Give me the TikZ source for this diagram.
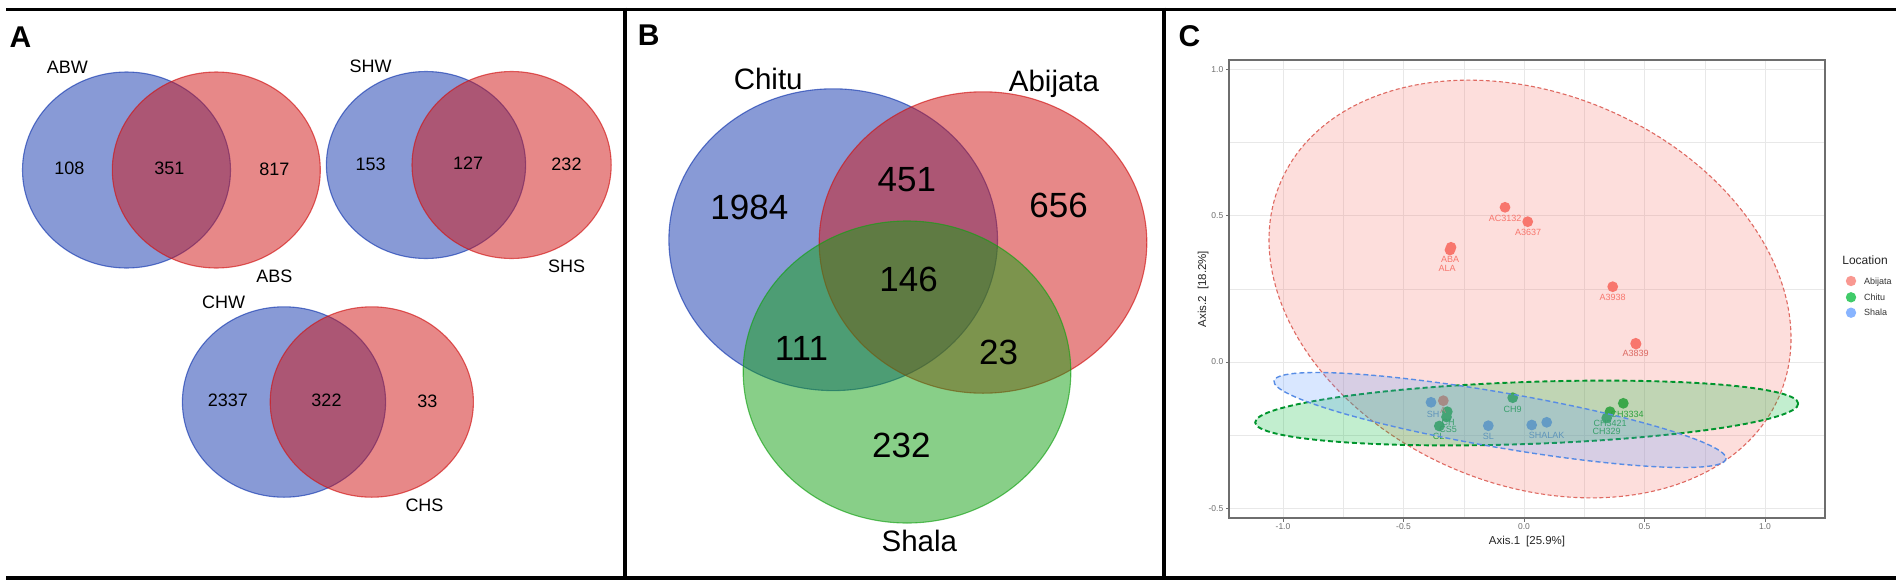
\documentclass[tikz,border=0pt]{standalone}
\usepackage{fontspec}
\setmainfont{Liberation Sans}
\definecolor{vblue}{RGB}{19,55,175}
\definecolor{vred}{RGB}{209,19,19}
\definecolor{vgreen}{RGB}{19,161,19}
\definecolor{gab}{RGB}{248,118,109}
\definecolor{gch}{RGB}{0,186,56}
\definecolor{gsh}{RGB}{97,156,255}
\definecolor{tickgray}{RGB}{110,110,110}
\definecolor{gridgray}{RGB}{232,232,232}
\definecolor{bordergray}{RGB}{110,110,110}
\begin{document}
\begin{tikzpicture}[x=1pt,y=-1pt,
  frame/.style={line width=3.8pt,black},
  divider/.style={line width=3.2pt,black},
  vset/.style={fill opacity=0.5,draw opacity=0.65,line width=1.1pt},
  panelletter/.style={font=\fontsize{30}{30}\selectfont\bfseries,inner sep=0pt,text depth=0pt},
  vlabA/.style={font=\fontsize{18}{18}\selectfont,inner sep=0pt,text depth=0pt},
  vlabB/.style={font=\fontsize{29.5}{30}\selectfont,inner sep=0pt,text depth=0pt},
  vnumB/.style={font=\fontsize{35}{35}\selectfont,inner sep=0pt,text depth=0pt},
  ticklab/.style={font=\fontsize{8.5}{9}\selectfont,text=tickgray,inner sep=0pt,text depth=0pt},
  axtitle/.style={font=\fontsize{11.5}{12}\selectfont,text=black!85,inner sep=0pt,text depth=0pt},
  ptlab/.style={font=\fontsize{9}{9}\selectfont,inner sep=0pt,text depth=0pt},
  legtext/.style={font=\fontsize{9}{9}\selectfont,text=black!80,inner sep=0pt,text depth=0pt,anchor=west},
  dotab/.style={fill=gab},
  dotch/.style={fill=gch!90!black!90!white},
  dotsh/.style={fill=gsh},
  ell/.style={fill opacity=0.24,draw opacity=1}
]
\useasboundingbox (0,0) rectangle (1904,587);
\fill[white] (0,0) rectangle (1904,587);

% ---------- frame ----------
\coordinate (tl) at (6,9.5); \coordinate (tr) at (1896,9.5);
\coordinate (bl) at (6,578); \coordinate (br) at (1896,578);
\coordinate (d1t) at (625,7.5); \coordinate (d1b) at (625,580);
\coordinate (d2t) at (1164,7.5); \coordinate (d2b) at (1164,580);
\draw[frame] (tl) -- (tr);
\draw[frame] (bl) -- (br);
\draw[divider] (d1t) -- (d1b);
\draw[divider] (d2t) -- (d2b);

% ---------- panel A ----------
\node[panelletter] (pA) at (20.5,37.5) {A};
\path[vset,fill=vblue,draw=vblue] (126.5,170) ellipse [x radius=104,y radius=98];
\path[vset,fill=vred,draw=vred] (216.3,170) ellipse [x radius=104,y radius=98];
\path[vset,fill=vblue,draw=vblue] (426,165) ellipse [x radius=99.6,y radius=93.5];
\path[vset,fill=vred,draw=vred] (511.6,165) ellipse [x radius=99.6,y radius=93.5];
\path[vset,fill=vblue,draw=vblue] (284,402) ellipse [x radius=101.6,y radius=95.2];
\path[vset,fill=vred,draw=vred] (371.8,402) ellipse [x radius=101.6,y radius=95.2];

\node[vlabA] (tABW) at (67.3,67.4) {ABW};
\node[vlabA] (n108) at (69.4,168.5) {108};
\node[vlabA] (n351) at (169.4,168.5) {351};
\node[vlabA] (n817) at (274.3,169.3) {817};
\node[vlabA] (tABS) at (274.3,276.4) {ABS};
\node[vlabA] (tSHW) at (370.6,66.7) {SHW};
\node[vlabA] (n153) at (370.6,164) {153};
\node[vlabA] (n127) at (468.2,163) {127};
\node[vlabA] (n232a) at (566.5,164) {232};
\node[vlabA] (tSHS) at (566.5,266.7) {SHS};
\node[vlabA] (tCHW) at (223.7,302.6) {CHW};
\node[vlabA] (n2337) at (227.8,400.7) {2337};
\node[vlabA] (n322) at (326.5,400.7) {322};
\node[vlabA] (n33) at (427.3,401.5) {33};
\node[vlabA] (tCHS) at (424.5,505.6) {CHS};

% ---------- panel B ----------
\node[panelletter] (pB) at (648.6,35.6) {B};
\path[vset,fill=vblue,draw=vblue] (833.2,239.7) ellipse [x radius=164.3,y radius=150.9];
\path[vset,fill=vred,draw=vred] (983,242.5) ellipse [x radius=163.8,y radius=150.7];
\path[vset,fill=vgreen,draw=vgreen] (907,372) ellipse [x radius=163.8,y radius=151];
\node[vlabB] (tChitu) at (768.2,78.7) {Chitu};
\node[vlabB] (tAbijata) at (1054,80.5) {Abijata};
\node[vlabB] (tShala) at (919.3,541.2) {Shala};
\node[vnumB] (n1984) at (749.3,207) {1984};
\node[vnumB] (n451) at (906.8,179.8) {451};
\node[vnumB] (n656) at (1058.6,205) {656};
\node[vnumB] (n146) at (908.6,279) {146};
\node[vnumB] (n111) at (801.4,348.3) {111};
\node[vnumB] (n23) at (998.6,352) {23};
\node[vnumB] (n232b) at (901.4,445.7) {232};

% ---------- panel C ----------
\node[panelletter] (pC) at (1189.4,35.6) {C};
% grid
\foreach \gx in {1343.25,1463.75,1584.25,1704.75} {\draw[gridgray,line width=0.5pt] (\gx,60) -- (\gx,518);}
\foreach \gy in {142.55,288.85,435.15} {\draw[gridgray,line width=0.5pt] (1229,\gy) -- (1825,\gy);}
\foreach \gx in {1283,1403.5,1524,1644.5,1765} {\draw[gridgray,line width=1pt] (\gx,60) -- (\gx,518);}
\foreach \gy in {69.4,215.7,362,508.3} {\draw[gridgray,line width=1pt] (1229,\gy) -- (1825,\gy);}

% points
\foreach \px/\py in {1505/207.3,1527.7/221.7,1451/247.3,1450/250,1612.7/286.7,1635.7/343.3,1636/344,1443.3/400.7}
  {\fill[dotab] (\px,\py) circle (5.4);}
\foreach \px/\py in {1512.7/397.7,1623.3/403.3,1610/411.7,1606.7/418,1447.3/411.7,1446.5/417,1439.3/426}
  {\fill[dotch] (\px,\py) circle (5.4);}
\foreach \px/\py in {1431/402.3,1488.3/425.7,1531.7/425,1546.7/422.3}
  {\fill[dotsh] (\px,\py) circle (5.4);}

% point labels
\node[ptlab,text=gab] (lAC3132) at (1505,218.3) {AC3132};
\node[ptlab,text=gab] (lA3637) at (1528,232) {A3637};
\node[ptlab,text=gab] (lABA) at (1450,259) {ABA};
\node[ptlab,text=gab] (lALA) at (1447,268) {ALA};
\node[ptlab,text=gab] (lA3938) at (1612.7,297.3) {A3938};
\node[ptlab,text=gab!85!black] (lA3839) at (1635.5,353.7) {A3839};
\node[ptlab,text=gab] (lAx) at (1443,410) {A};
\node[ptlab,text=gch!90!black] (lCH9) at (1512.7,409) {CH9};
\node[ptlab,text=gch!90!black] (lCH3334) at (1627,414.5) {CH3334};
\node[ptlab,text=gch!90!black] (lCH3421) at (1610,423.5) {CH3421};
\node[ptlab,text=gch!90!black] (lCH329) at (1606.7,431) {CH329};
\node[ptlab,text=gch!90!black] (lCH) at (1448,422) {CH};
\node[ptlab,text=gch!90!black] (lCS5) at (1448,429.5) {CS5};
\node[ptlab,text=gch!90!black] (lCL) at (1438.5,436.5) {CL};
\node[ptlab,text=gsh!90!black] (lSH) at (1433,414) {SH};
\node[ptlab,text=gsh!90!black] (lSL) at (1488.3,436.7) {SL};
\node[ptlab,text=gsh!90!black] (lSHALAK) at (1546.7,435) {SHALAK};

% ellipses
\begin{scope}
\clip (1229,60) rectangle (1825,518);
\path[ell,fill=gab,draw=gab!90!black,line width=1.1pt,dash pattern=on 4pt off 2.5pt,rotate around={-23.2:(1530,289)}] (1530,289) ellipse [x radius=271.3,y radius=195.2];
\path[ell,fill=gch,draw=gch!80!black,line width=1.9pt,dash pattern=on 5pt off 3pt,rotate around={2:(1526.7,413)}] (1526.7,413) ellipse [x radius=271.7,y radius=31];
\path[ell,fill=gsh,draw=gsh!90!black,line width=1.4pt,dash pattern=on 5pt off 3pt,rotate around={-9.8:(1500,420)}] (1500,420) ellipse [x radius=229.3,y radius=27.5];
\end{scope}

% panel border and ticks
\draw[bordergray,line width=1.4pt] (1229,60) rectangle (1825,518);
\foreach \gx/\lab in {1283/-1.0,1403.5/-0.5,1524/0.0,1644.5/0.5,1765/1.0} {
  \draw[bordergray,line width=0.8pt] (\gx,518) -- (\gx,521.5);
  \node[ticklab,anchor=north] at (\gx,523.5) {\lab};
}
\foreach \gy/\lab in {69.4/1.0,215.7/0.5,362/0.0,508.3/-0.5} {
  \draw[bordergray,line width=0.8pt] (1229,\gy) -- (1225.5,\gy);
  \node[ticklab,anchor=east] at (1223.5,\gy) {\lab};
}
\node[axtitle] (ax1) at (1527,540) {Axis.1\hspace{6pt}[25.9\%]};
\node[axtitle,rotate=90] (ax2) at (1202,289) {Axis.2\hspace{6pt}[18.2\%]};

% legend
\node[font=\fontsize{12}{12}\selectfont,text=black!85,inner sep=0pt,text depth=0pt] (legT) at (1865,260) {Location};
\fill[gab,opacity=0.75] (1851,281) circle (5.2);
\fill[gch,opacity=0.75] (1851,297.3) circle (5.2);
\fill[gsh,opacity=0.75] (1851,312.7) circle (5.2);
\node[legtext] (legA) at (1864,281) {Abijata};
\node[legtext] (legC) at (1864,297.3) {Chitu};
\node[legtext] (legS) at (1864,312.7) {Shala};
\end{tikzpicture}
\end{document}
